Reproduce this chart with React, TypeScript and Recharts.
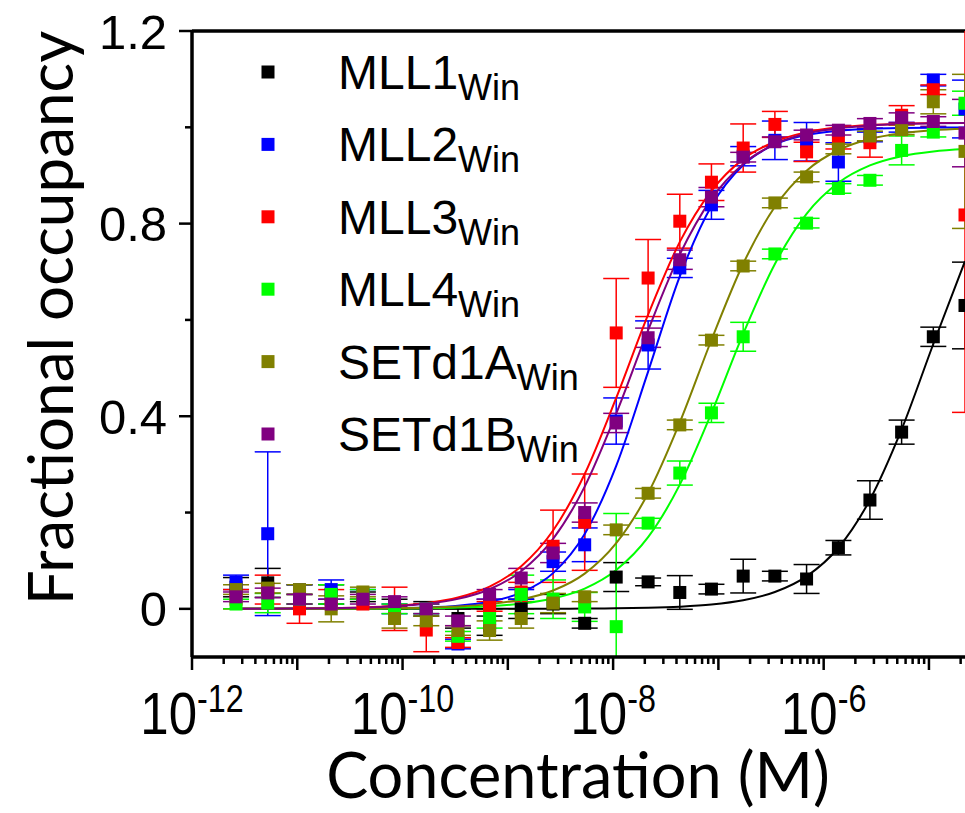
import React from 'react';
import { ComposedChart, Line, Scatter, XAxis, YAxis, ErrorBar, ReferenceLine, Legend, Label } from 'recharts';

// 2-fold dilution series (M)
const concentrations = [
  2.62e-12, 5.24e-12, 1.05e-11, 2.1e-11, 4.2e-11, 8.39e-11, 1.68e-10, 3.36e-10,
  6.71e-10, 1.34e-9, 2.69e-9, 5.37e-9, 1.07e-8, 2.15e-8, 4.3e-8, 8.59e-8,
  1.72e-7, 3.44e-7, 6.88e-7, 1.38e-6, 2.75e-6, 5.5e-6, 1.1e-5, 2.2e-5,
];

const mll1 = [0.045, 0.054, 0.03, 0.03, 0.025, 0.01, 0.0, -0.02, -0.035, 0.0, 0.01, -0.03, 0.066, 0.056, 0.034, 0.041, 0.068, 0.068, 0.062, 0.127, 0.226, 0.367, 0.565, 0.63];
const mll2 = [0.055, 0.156, 0.04, 0.04, 0.03, 0.0, 0.0, -0.073, 0.01, 0.03, 0.098, 0.133, 0.39, 0.548, 0.708, 0.839, 0.94, 0.973, 0.97, 0.928, 0.98, 1.0, 1.098, 1.038];
const mll3 = [0.02, 0.04, 0.0, 0.02, 0.01, 0.0, -0.044, -0.07, 0.005, 0.035, 0.13, 0.18, 0.573, 0.687, 0.805, 0.886, 0.957, 1.006, 0.949, 0.975, 0.968, 1.025, 1.078, 0.818];
const mll4 = [0.01, 0.012, 0.02, 0.03, 0.03, 0.0, 0.0, -0.057, -0.02, 0.03, 0.02, 0.004, -0.037, 0.178, 0.282, 0.407, 0.565, 0.737, 0.801, 0.873, 0.89, 0.952, 0.99, 1.05];
const setd1a = [0.04, 0.043, 0.04, 0.0, 0.035, -0.02, -0.025, -0.045, -0.045, -0.02, 0.012, 0.025, 0.164, 0.24, 0.382, 0.558, 0.712, 0.843, 0.897, 0.955, 0.982, 0.995, 1.053, 0.95];
const setd1b = [0.025, 0.033, 0.02, 0.01, 0.02, 0.015, 0.0, -0.025, 0.03, 0.064, 0.116, 0.2, 0.386, 0.563, 0.725, 0.855, 0.938, 0.97, 0.984, 0.994, 1.008, 1.02, 1.012, 0.988];

const mll1Err = [0.02, 0.03, 0.02, 0.02, 0.01, 0.01, 0.015, 0.02, 0.02, 0.02, 0.02, 0.01, 0.03, 0.008, 0.035, 0.01, 0.035, 0.01, 0.03, 0.015, 0.04, 0.025, 0.02, 0.09];
const mll2Err = [0.015, 0.17, 0.01, 0.02, 0.01, 0.01, 0.01, 0.01, 0.01, 0.01, 0.02, 0.035, 0.048, 0.05, 0.02, 0.03, 0.02, 0.04, 0.04, 0.04, 0.01, 0.01, 0.012, 0.06];
const mll3Err = [0.02, 0.03, 0.03, 0.02, 0.01, 0.045, 0.045, 0.01, 0.01, 0.02, 0.075, 0.1, 0.113, 0.08, 0.056, 0.038, 0.05, 0.027, 0.02, 0.02, 0.03, 0.02, 0.01, 0.41];
const mll4Err = [0.01, 0.02, 0.01, 0.02, 0.01, 0.01, 0.01, 0.01, 0.02, 0.04, 0.04, 0.03, 0.235, 0.01, 0.025, 0.02, 0.03, 0.01, 0.01, 0.01, 0.01, 0.03, 0.01, 0.025];
const setd1aErr = [0.01, 0.01, 0.01, 0.027, 0.01, 0.02, 0.01, 0.01, 0.02, 0.02, 0.02, 0.01, 0.01, 0.01, 0.01, 0.01, 0.01, 0.01, 0.01, 0.01, 0.01, 0.01, 0.025, 0.16];
const setd1bErr = [0.01, 0.01, 0.01, 0.01, 0.01, 0.01, 0.01, 0.01, 0.01, 0.02, 0.02, 0.02, 0.02, 0.02, 0.02, 0.02, 0.01, 0.01, 0.01, 0.01, 0.01, 0.01, 0.01, 0.07];

// fitted binding curves at the same concentrations
const mll1Fit = [0, 0, 0, 0, 0, 0, 0, 0, 0.0001, 0.0001, 0.0003, 0.0006, 0.0011, 0.0022, 0.0045, 0.0089, 0.0177, 0.0349, 0.0675, 0.1269, 0.2265, 0.3725, 0.55, 0.7219];
const mll2Fit = [0, 0, 0.0001, 0.0002, 0.0005, 0.0013, 0.0029, 0.0066, 0.0149, 0.0337, 0.0742, 0.1555, 0.297, 0.4927, 0.6906, 0.8368, 0.9218, 0.9644, 0.9842, 0.993, 0.997, 0.9987, 0.9994, 0.9998];
const mll3Fit = [0.0002, 0.0004, 0.0008, 0.0015, 0.003, 0.006, 0.012, 0.0237, 0.0462, 0.0884, 0.1626, 0.28, 0.438, 0.611, 0.762, 0.868, 0.934, 0.97, 0.99, 1.0, 1.005, 1.007, 1.009, 1.009];
const mll4Fit = [0, 0, 0.0001, 0.0002, 0.0003, 0.0007, 0.0014, 0.0027, 0.0055, 0.0109, 0.0216, 0.0421, 0.0807, 0.1489, 0.2579, 0.4066, 0.5712, 0.7163, 0.8204, 0.8847, 0.9208, 0.94, 0.9499, 0.9549];
const setd1aFit = [0, 0.0001, 0.0002, 0.0003, 0.0006, 0.0012, 0.0025, 0.0049, 0.0098, 0.0194, 0.038, 0.0732, 0.1364, 0.24, 0.3873, 0.5583, 0.7166, 0.8349, 0.91, 0.9529, 0.9759, 0.9878, 0.9939, 0.9969];
const setd1bFit = [0.0002, 0.0003, 0.0007, 0.0013, 0.0026, 0.0053, 0.0105, 0.0207, 0.0407, 0.0782, 0.1452, 0.2538, 0.4056, 0.5788, 0.736, 0.8515, 0.924, 0.965, 0.987, 0.998, 1.004, 1.007, 1.0085, 1.009];

const SERIES = [
  { key: 'mll1', name: 'MLL1', color: '#000000', values: mll1, err: mll1Err, fit: mll1Fit },
  { key: 'mll2', name: 'MLL2', color: '#0000FF', values: mll2, err: mll2Err, fit: mll2Fit },
  { key: 'mll3', name: 'MLL3', color: '#FF0000', values: mll3, err: mll3Err, fit: mll3Fit },
  { key: 'mll4', name: 'MLL4', color: '#00FF00', values: mll4, err: mll4Err, fit: mll4Fit },
  { key: 'setd1a', name: 'SETd1A', color: '#808000', values: setd1a, err: setd1aErr, fit: setd1aFit },
  { key: 'setd1b', name: 'SETd1B', color: '#800080', values: setd1b, err: setd1bErr, fit: setd1bFit },
];

const yTicks = [0, 0.2, 0.4, 0.6, 0.8, 1.0, 1.2];
const yLabels: Record<string, string> = { '0': '0', '0.4': '0.4', '0.8': '0.8', '1.2': '1.2' };
const xLabelExponents = [-12, -10, -8, -6];

// decades plus 2..9 minors
const xTicks: number[] = [];
for (let e = -12; e <= -5; e++) {
  for (let m = 1; m <= 9; m++) {
    const v = m * Math.pow(10, e);
    if (v <= 2.2e-5) xTicks.push(v);
  }
}

const rows = concentrations.map((conc, i) => {
  const row: any = { conc };
  SERIES.forEach(s => {
    row[s.key] = s.values[i];
    row[s.key + 'Err'] = s.err[i];
    row[s.key + 'Fit'] = s.fit[i];
  });
  return row;
});

const SquareDot = (props: any) => {
  const { cx, cy, fill } = props;
  if (cx == null || cy == null) return null;
  return <rect x={cx - 6.5} y={cy - 6.5} width={13} height={13} fill={fill} />;
};

const XTick = (props: any) => {
  const { x, y, payload } = props;
  const l = Math.log10(payload.value);
  const e = Math.round(l);
  const isDecade = Math.abs(l - e) < 1e-6;
  return (
    <g>
      <line x1={x} x2={x} y1={y} y2={y + (isDecade ? 13 : 7)} stroke="#000" strokeWidth={2.5} />
      {isDecade && xLabelExponents.includes(e) && (
        <g transform={`translate(${x},${y}) scale(0.85,1)`}>
          <text x={0} y={77} textAnchor="middle" fontFamily="'Liberation Sans', Arial, sans-serif" fontSize={60} fill="#000">
            10<tspan dy={-22} fontSize={38}>{String(e)}</tspan>
          </text>
        </g>
      )}
    </g>
  );
};

const YTick = (props: any) => {
  const { x, y, payload } = props;
  const label = yLabels[String(payload.value)];
  return (
    <g>
      <line x1={x} x2={x - (label ? 13 : 7)} y1={y} y2={y} stroke="#000" strokeWidth={2.5} />
      {label && (
        <text x={x - 25} y={y + 17.5} textAnchor="end" fontFamily="'Liberation Sans', Arial, sans-serif" fontSize={49} fill="#000">
          {label}
        </text>
      )}
    </g>
  );
};

const LegendBox = (props: any) => {
  const items = (props.payload || []).filter((p: any) => p.type !== 'none');
  return (
    <svg width={420} height={460} style={{ display: 'block', overflow: 'visible' }}>
      {items.map((p: any, i: number) => {
        const cy = 72 + i * 72.4 - 40;
        return (
          <g key={p.value}>
            <rect x={261.5 - 230} y={cy - 6.5} width={13} height={13} fill={p.color} />
            <text x={338 - 230} y={cy + 17} fontFamily="'Liberation Sans', Arial, sans-serif" fontSize={48} fill="#000">
              {p.value}
              <tspan dy={11} fontSize={36}>Win</tspan>
            </text>
          </g>
        );
      })}
    </svg>
  );
};

export default function App() {
  return (
    <div style={{ position: 'absolute', left: 0, top: 0, width: 965, height: 813, background: '#fff', overflow: 'hidden' }}>
      <style>{`.recharts-errorBars { clip-path: url(#plotClip); }`}</style>
      <svg width={0} height={0} style={{ position: 'absolute' }}>
        <defs>
          <clipPath id="plotClip" clipPathUnits="userSpaceOnUse">
            <rect x={192} y={31} width={773} height={626} />
          </clipPath>
        </defs>
      </svg>
      <ComposedChart width={965} height={813} data={rows} margin={{ top: 31, right: 0, bottom: 56, left: 92 }}>
        <XAxis
          dataKey="conc"
          type="number"
          scale="log"
          domain={[1e-12, 2.2e-5]}
          allowDataOverflow
          ticks={xTicks}
          interval={0}
          height={100}
          tickSize={0}
          tickMargin={0}
          tick={<XTick />}
          axisLine={{ stroke: '#000', strokeWidth: 3.5 }}
        >
          <Label
            content={() => (
              <text x={578} y={798} textAnchor="middle" fontFamily="Lato, 'Open Sans', sans-serif" fontSize={63} fill="#000">
                Concentration (M)
              </text>
            )}
          />
        </XAxis>
        <YAxis
          type="number"
          domain={[-0.1, 1.2]}
          allowDataOverflow
          ticks={yTicks}
          interval={0}
          width={100}
          tickSize={0}
          tickMargin={0}
          tick={<YTick />}
          axisLine={{ stroke: '#000', strokeWidth: 3.5 }}
        >
          <Label
            content={() => (
              <text
                x={73}
                y={318}
                transform="rotate(-90 73 318)"
                textAnchor="middle"
                fontFamily="Lato, 'Open Sans', sans-serif"
                fontSize={62}
                fill="#000"
              >
                Fractional occupancy
              </text>
            )}
          />
        </YAxis>
        <ReferenceLine y={1.2} stroke="#000" strokeWidth={3.5} />
        {SERIES.map(s => (
          <Scatter
            key={s.key}
            name={s.name}
            dataKey={s.key}
            fill={s.color}
            shape={<SquareDot />}
            isAnimationActive={false}
          >
            <ErrorBar dataKey={s.key + 'Err'} direction="y" width={13} stroke={s.color} strokeWidth={1.5} />
          </Scatter>
        ))}
        {SERIES.map(s => (
          <Line
            key={s.key + 'Fit'}
            dataKey={s.key + 'Fit'}
            type="monotone"
            stroke={s.color}
            strokeWidth={2}
            dot={false}
            activeDot={false}
            legendType="none"
            isAnimationActive={false}
          />
        ))}
        <Legend
          layout="vertical"
          align="center"
          verticalAlign="middle"
          content={<LegendBox />}
          wrapperStyle={{ left: 230, top: 40, width: 420, height: 460 }}
        />
      </ComposedChart>
    </div>
  );
}
